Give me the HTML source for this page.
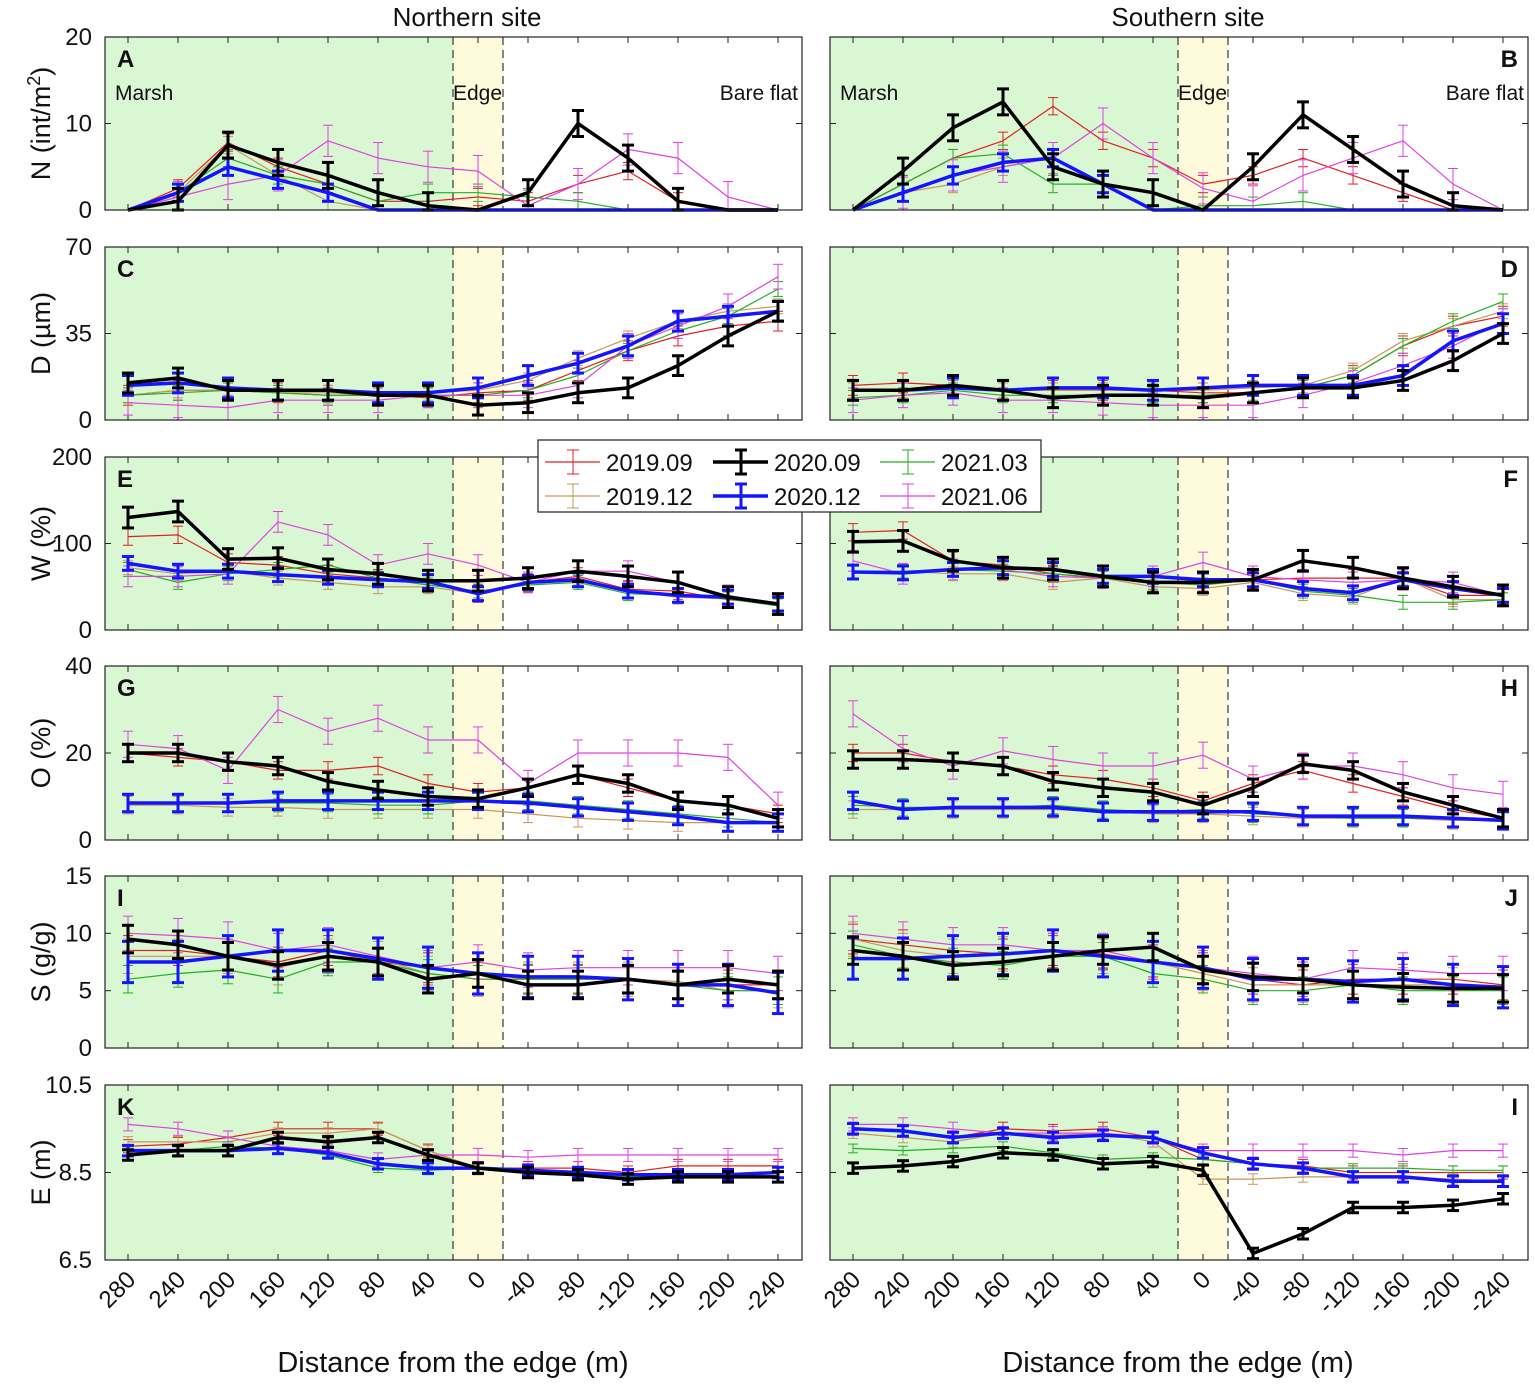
<!DOCTYPE html>
<html><head><meta charset="utf-8">
<style>
html,body{margin:0;padding:0;background:#fff;}
svg{display:block;font-family:"Liberation Sans",Arial,sans-serif;}
</style></head>
<body>
<svg id="fig" width="1535" height="1384" viewBox="0 0 1535 1384" xmlns="http://www.w3.org/2000/svg"></svg>
<script>
const distances = [280,240,200,160,120,80,40,0,-40,-80,-120,-160,-200,-240];
const seriesNames = ["2019.09","2019.12","2020.09","2020.12","2021.03","2021.06"];
const seriesColors = ["#e02020","#c8965a","#000000","#1414ff","#22b022","#e040e0"];
const seriesWidths = [1.2,1.2,3.5,3.5,1.2,1.2];

// Panel A (N, northern)
const nN_r=[0,2.5,7.8,5,3,1,1,1.5,1,3,4.5,1,0,0];
const nN_t=[0,2,7.5,4,1,0,0,0,0,0,0,0,0,0];
const nN_k=[0,1,7.5,5.5,4,2,0.5,0,2,10,6,1,0,0];
const nN_b=[0,2,5,3.5,2,0,0,0,0,0,0,0,0,0];
const nN_g=[0,2,6,4,3,1,2,2,1.5,1,0,0,0,0];
const nN_m=[0,1.5,3,4,8,6,5,4.5,0.5,3,7,6,1.5,0];
// Panel B (N, southern)
const nS_r=[0,3,6,8,12,8,6,3,4,6,4,2,0,0];
const nS_t=[0,2,3,5,6,3,0,0,0,0,0,0,0,0];
const nS_k=[0,4.5,9.5,12.5,5,3,2,0,5,11,7,3,0.5,0];
const nS_b=[0,2,4,5.5,6,3,0,0,0,0,0,0,0,0];
const nS_g=[0,3,6,6.5,3,3,0,0.5,0.5,1,0,0,0,0];
const nS_m=[0,2,4,5,6,10,6,2.5,1,4,6,8,3,0];
// Panel C (D)
const dN_r=[10,12,12,11,10,10,9,11,12,20,28,34,38,40];
const dN_t=[10,12,12,11,11,10,11,12,16,25,33,40,44,46];
const dN_k=[15,17,12,12,12,10,10,6,7,11,13,22,34,44];
const dN_b=[14,15,13,12,12,11,11,13,18,23,30,40,42,44];
const dN_g=[10,11,12,11,10,10,10,10,12,18,28,36,42,53];
const dN_m=[7,6,5,8,8,8,10,10,10,14,30,38,46,58];
// Panel D
const dS_r=[14,15,14,12,12,12,12,11,11,13,18,30,38,42];
const dS_t=[12,12,13,12,12,12,12,12,13,14,20,32,38,44];
const dS_k=[12,12,14,12,9,10,10,9,11,13,13,16,24,35];
const dS_b=[12,12,13,12,13,13,12,13,14,14,14,18,32,39];
const dS_g=[9,10,12,10,10,10,10,10,11,13,18,30,40,48];
const dS_m=[8,10,11,8,8,7,6,6,6,10,15,22,30,40];
// Panel E (W)
const wN_r=[108,110,78,75,65,60,55,42,55,62,47,45,35,30];
const wN_t=[72,65,68,60,55,50,50,42,55,60,45,38,36,28];
const wN_k=[130,137,82,83,70,65,57,57,60,68,62,55,38,30];
const wN_b=[77,68,68,64,61,58,56,42,55,58,45,40,38,30];
const wN_g=[70,55,65,70,75,60,52,45,52,55,42,40,36,28];
const wN_m=[62,62,65,125,110,75,88,75,55,68,68,55,40,30];
// Panel F
const wS_r=[113,115,80,75,65,60,55,55,58,60,60,60,40,40];
const wS_t=[68,68,65,65,55,60,50,48,55,42,38,60,35,35];
const wS_k=[102,103,80,72,70,62,55,55,58,80,72,60,50,40];
const wS_b=[67,66,70,72,70,62,62,58,58,48,43,58,48,40];
const wS_g=[68,68,70,68,65,60,55,52,58,45,40,32,32,35];
const wS_m=[80,65,70,70,62,60,62,78,62,58,55,58,55,40];
// Panel G (O)
const oN_r=[20,19,18,16,16,17,13,11,12,15,12,9,8,6];
const oN_t=[8,8,7.5,7.5,7,7,7,7,6,5,4.5,4,4,4];
const oN_k=[20,20,18,17,13.5,11.5,10,9.5,12,15,13,9,8,5];
const oN_b=[8.5,8.5,8.5,9,9,9,9,9,8.5,7.5,6.5,5.5,4,4];
const oN_g=[8.5,8.5,8.5,8.5,8.5,8,8,9,9,8,7,6,5,4];
const oN_m=[22,21,16,30,25,28,23,23,13,20,20,20,19,8];
// Panel H
const oS_r=[20,20,18,17,15,14,12,9,13,16,13,10,7,5];
const oS_t=[7,7,7,7,7,6.5,6,6,5.5,5,5,5,4.5,4.5];
const oS_k=[18.5,18.5,18,17,13.5,12,11,8,12,17.5,16,11,8,5];
const oS_b=[9,7,7.5,7.5,7.5,6.5,6.5,6.5,6.5,5.5,5.5,5.5,5,4.5];
const oS_g=[8,7.5,7.5,7.5,8,7,6.5,7,6,5.5,5,5,5,4.5];
const oS_m=[29,21,17,20.5,18.5,17,17,19.5,14,17,17,15,12,10.5];
// Panel I (S)
const sN_r=[8.5,8.5,8,7.5,8.5,7.5,7,6.5,6,6,6,5.5,5.5,5.5];
const sN_t=[8,8,8,7,8,7.8,6.5,6,6,6,6,5.8,5,5];
const sN_k=[9.5,9,8,7.2,8,7.5,6,6.5,5.5,5.5,6,5.5,6,5.5];
const sN_b=[7.5,7.5,8,8.5,8.5,7.8,7,6.5,6.2,6.2,6,5.5,5.5,4.8];
const sN_g=[6,6.5,6.8,6,7.5,7.5,6.5,6,6,6,6,5.5,5,5];
const sN_m=[10,9.8,9.5,8.5,9,8,7,7.5,6.8,7,7,7,7,6.5];
// Panel J
const sS_r=[9.5,9,8.5,8.2,8.5,8.2,7.5,7,6,5.5,6,6,6,5.5];
const sS_t=[9.5,8.5,8,8.2,8.5,8,7.5,6.5,5.5,5.5,5.5,5.5,5.5,5];
const sS_k=[8.5,8,7.2,7.5,8,8.5,8.8,6.8,6.2,6,5.5,5.3,5.2,5.2];
const sS_b=[7.8,7.8,8,8.2,8.5,8,7.5,7,6,6,5.8,6,5.5,5.3];
const sS_g=[9,8,7.5,7.2,8,8,6.5,6,5,5,5.5,5,5,5];
const sS_m=[10,9.5,9,9,8.5,8.5,7.5,7,6.5,6,7,6.8,6.5,6.5];
// Panel K (E)
const eN_r=[9.1,9.15,9.3,9.5,9.5,9.5,9.0,8.6,8.6,8.6,8.5,8.65,8.65,8.65];
const eN_t=[9.2,9.2,9.2,9.4,9.4,9.5,9.0,8.6,8.55,8.5,8.45,8.45,8.45,8.5];
const eN_k=[8.9,9.0,9.0,9.3,9.2,9.3,8.9,8.6,8.5,8.45,8.35,8.4,8.4,8.4];
const eN_b=[9.0,9.0,9.0,9.05,8.95,8.7,8.6,8.6,8.55,8.5,8.45,8.45,8.45,8.5];
const eN_g=[9.0,9.0,9.1,9.05,8.9,8.6,8.55,8.6,8.55,8.5,8.4,8.4,8.4,8.4];
const eN_m=[9.6,9.5,9.3,9.1,9.0,8.8,8.9,8.9,8.85,8.9,8.9,8.9,8.9,8.9];
// Panel L (E, southern, labelled "I")
const eS_r=[9.5,9.45,9.3,9.5,9.45,9.5,9.3,8.8,8.7,8.65,8.5,8.5,8.5,8.5];
const eS_t=[9.4,9.3,9.2,9.4,9.35,9.4,9.2,8.35,8.35,8.4,8.4,8.4,8.35,8.3];
const eS_k=[8.6,8.65,8.75,8.95,8.9,8.7,8.75,8.55,6.65,7.1,7.7,7.7,7.75,7.9];
const eS_b=[9.5,9.45,9.3,9.4,9.3,9.35,9.3,8.95,8.7,8.6,8.4,8.4,8.3,8.3];
const eS_g=[9.05,9.0,9.05,9.1,8.95,8.8,8.85,8.8,8.7,8.6,8.6,8.6,8.55,8.55];
const eS_m=[9.6,9.6,9.5,9.4,9.4,9.4,9.3,9.0,9.0,9.0,9.0,8.9,9.0,9.0];

// error half-widths per series [r,t,k,b,g,m] per panel row
const errN=[1,1,1.5,1,1,1.8];
const errD=[4,3,4,4,3,5];
const errW=[10,8,12,8,8,12];
const errO=[2,2,2,2,2,3];
const errS=[1.3,1.5,1.2,1.8,1.2,1.5];
const errE=[0.15,0.12,0.12,0.12,0.1,0.15];

const ticksN=[0,10,20], ticksD=[0,35,70], ticksW=[0,100,200], ticksO=[0,20,40], ticksS=[0,5,10,15], ticksE=[6.5,8.5,10.5];

const rows=[
 {top:37,bot:210,min:0,max:20,ticks:ticksN,title:"N (int/m²)",err:errN,L:[nN_r,nN_t,nN_k,nN_b,nN_g,nN_m],R:[nS_r,nS_t,nS_k,nS_b,nS_g,nS_m],lab:["A","B"]},
 {top:247,bot:420,min:0,max:70,ticks:ticksD,title:"D (µm)",err:errD,L:[dN_r,dN_t,dN_k,dN_b,dN_g,dN_m],R:[dS_r,dS_t,dS_k,dS_b,dS_g,dS_m],lab:["C","D"]},
 {top:457,bot:630,min:0,max:200,ticks:ticksW,title:"W (%)",err:errW,L:[wN_r,wN_t,wN_k,wN_b,wN_g,wN_m],R:[wS_r,wS_t,wS_k,wS_b,wS_g,wS_m],lab:["E","F"]},
 {top:666,bot:840,min:0,max:40,ticks:ticksO,title:"O (%)",err:errO,L:[oN_r,oN_t,oN_k,oN_b,oN_g,oN_m],R:[oS_r,oS_t,oS_k,oS_b,oS_g,oS_m],lab:["G","H"]},
 {top:876,bot:1048,min:0,max:15,ticks:ticksS,title:"S (g/g)",err:errS,L:[sN_r,sN_t,sN_k,sN_b,sN_g,sN_m],R:[sS_r,sS_t,sS_k,sS_b,sS_g,sS_m],lab:["I","J"]},
 {top:1085,bot:1260,min:6.5,max:10.5,ticks:ticksE,title:"E (m)",err:errE,L:[eN_r,eN_t,eN_k,eN_b,eN_g,eN_m],R:[eS_r,eS_t,eS_k,eS_b,eS_g,eS_m],lab:["K","I"]}
];
const cols=[{x0:105,x1:802,zero:478},{x0:830,x1:1528,zero:1203}];
const step=50;
const NS="http://www.w3.org/2000/svg";
const svg=document.getElementById('fig');
function el(tag,attrs,parent){const e=document.createElementNS(NS,tag);for(const k in attrs)e.setAttribute(k,attrs[k]);(parent||svg).appendChild(e);return e;}
function xScale(c,d){return c.zero - d/40*step;}

rows.forEach((r,ri)=>{
 const yS=v=>r.bot-(v-r.min)/(r.max-r.min)*(r.bot-r.top);
 cols.forEach((c,ci)=>{
  const g=el('g',{});
  
  
  const green=el('rect',{x:c.x0,y:r.top,width:c.zero-25-c.x0,height:r.bot-r.top,fill:'#d9f7d3'},g);
  
  
  const yel=el('rect',{x:c.zero-25,y:r.top,width:50,height:r.bot-r.top,fill:'#fdfbdc'},g);
  
  
  [c.zero-25,c.zero+25].forEach(x=>{const l=el('line',{x1:x,x2:x,y1:r.top,y2:r.bot,stroke:'#444','stroke-width':1.3,'stroke-dasharray':'8,5'},g);});
  distances.forEach(d=>{const x=xScale(c,d);
   el('line',{x1:x,x2:x,y1:r.bot,y2:r.bot-6,stroke:'#222','stroke-width':1},g);
   el('line',{x1:x,x2:x,y1:r.top,y2:r.top+6,stroke:'#222','stroke-width':1},g);});
  r.ticks.forEach(t=>{const y=yS(t);
   el('line',{x1:c.x0,x2:c.x0+6,y1:y,y2:y,stroke:'#222'},g);
   el('line',{x1:c.x1,x2:c.x1-6,y1:y,y2:y,stroke:'#222'},g);
   if(ci===0){const tx=el('text',{x:92,y:y+8,'font-size':24,'text-anchor':'end',fill:'#111'},g);tx.textContent=t;
    }
  });
  const data=ci?r.R:r.L;
  const order=[0,1,4,5,3,2];
  order.forEach(si=>{
   const vals=data[si];const col=seriesColors[si];const w=seriesWidths[si];
   const sg=el('g',{},g);
   
   
   const pts=vals.map((v,i)=>xScale(c,distances[i]).toFixed(1)+','+yS(v).toFixed(1)).join(' ');
   el('polyline',{points:pts,fill:'none',stroke:col,'stroke-width':w,'stroke-linejoin':'round'},sg);
   const e=r.err[si];
   vals.forEach((v,i)=>{
    const x=xScale(c,distances[i]);
    if(r.min===0 && v===0) return;
    const lo=Math.max(r.min,v-e), hi=Math.min(r.max,v+e);
    const y1=yS(lo),y2=yS(hi);const cw=w>2?6:5;const ew=w>2?3:1;
    el('line',{x1:x,x2:x,y1:y1,y2:y2,stroke:col,'stroke-width':ew},sg);
    el('line',{x1:x-cw,x2:x+cw,y1:y1,y2:y1,stroke:col,'stroke-width':ew},sg);
    el('line',{x1:x-cw,x2:x+cw,y1:y2,y2:y2,stroke:col,'stroke-width':ew},sg);
   });
  });
  const box=el('rect',{x:c.x0,y:r.top,width:c.x1-c.x0,height:r.bot-r.top,fill:'none',stroke:'#222','stroke-width':1.2},g);
  
  const lab=el('text',{x:ci?c.x1-10:c.x0+12,y:r.top+30,'font-size':24,'font-weight':'bold','text-anchor':ci?'end':'start',fill:'#111'},g);
  lab.textContent=r.lab[ci];
  
  if(ri===0){
   [["Marsh",c.x0+10,'start'],["Edge",c.zero-25,'start'],["Bare flat",c.x1-4,'end']].forEach(a=>{
    const t=el('text',{x:a[1],y:r.top+63,'font-size':21,'text-anchor':a[2],fill:'#111'},g);t.textContent=a[0];
    });
  }
  if(ri===rows.length-1){
   distances.forEach(d=>{const x=xScale(c,d);
    const t=el('text',{x:x+9,y:r.bot+21,'font-size':24,'text-anchor':'end',fill:'#111',transform:`rotate(-45 ${x+9} ${r.bot+21})`},g);
    t.textContent=d;});
   const xt=el('text',{x:c.zero-25,y:1372,'font-size':29,'text-anchor':'middle',fill:'#111'},g);
   xt.textContent="Distance from the edge (m)";
  }
 });
 const yt=el('text',{x:0,y:0,'font-size':27,'text-anchor':'middle',fill:'#111',transform:`translate(50 ${(r.top+r.bot)/2}) rotate(-90)`});
 if(ri===0){yt.innerHTML='N (int/m<tspan baseline-shift="super" font-size="18">2</tspan>)';}else yt.textContent=r.title;
 
});
[["Northern site",467],["Southern site",1188]].forEach(a=>{const t=el('text',{x:a[1],y:26,'font-size':26,'text-anchor':'middle',fill:'#111'});t.textContent=a[0];
 });
const lg=el('g',{});

el('rect',{x:538,y:440,width:503,height:72,fill:'#fff',stroke:'#222','stroke-width':1.2},lg);
const lx=[545,713,880], ly=[462,496];
const lpos=[[0,0],[0,1],[1,0],[1,1],[2,0],[2,1]];
seriesNames.forEach((n,si)=>{
 const [cx,ry]=lpos[si];const x=lx[cx],y=ly[ry];const col=seriesColors[si];const w=seriesWidths[si];
 const e=el('g',{},lg);
 
 el('line',{x1:x,x2:x+55,y1:y,y2:y,stroke:col,'stroke-width':w},e);
 el('line',{x1:x+28,x2:x+28,y1:y-12,y2:y+12,stroke:col,'stroke-width':w>2?3:1},e);
 el('line',{x1:x+22,x2:x+34,y1:y-12,y2:y-12,stroke:col,'stroke-width':w>2?3:1},e);
 el('line',{x1:x+22,x2:x+34,y1:y+12,y2:y+12,stroke:col,'stroke-width':w>2?3:1},e);
 const t=el('text',{x:x+61,y:y+9,'font-size':24,fill:'#111'},e);t.textContent=n;
});
</script>
</body></html>
